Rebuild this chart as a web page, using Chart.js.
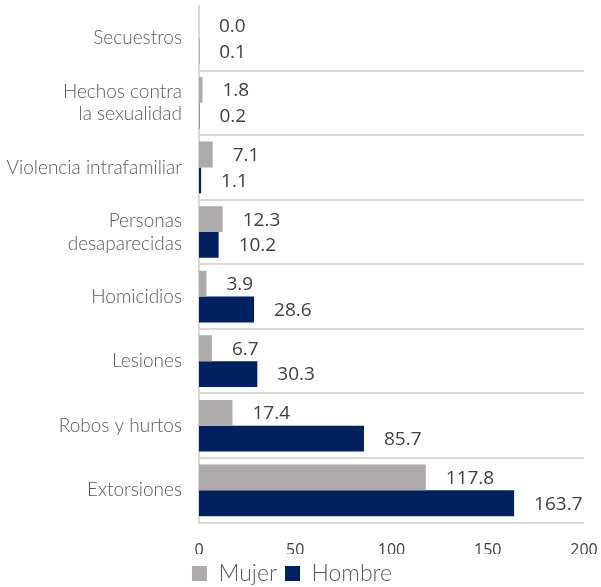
<!DOCTYPE html>
<html>
<head>
<meta charset="utf-8">
<script src="https://cdn.jsdelivr.net/npm/chart.js@4"></script>
<style>
  html, body { margin: 0; padding: 0; background: #fff; }
  #wrap { width: 601px; height: 587px; }
</style>
</head>
<body>
<div id="wrap"><canvas id="chart" width="601" height="587"></canvas></div>
<script>
// Data
const categories = [
  "Secuestros",
  ["Hechos contra", "la sexualidad"],
  "Violencia intrafamiliar",
  ["Personas", "desaparecidas"],
  "Homicidios",
  "Lesiones",
  "Robos y hurtos",
  "Extorsiones"
];
const mujer = [0.0, 1.8, 7.1, 12.3, 3.9, 6.7, 17.4, 117.8];
const hombre = [0.1, 0.2, 1.1, 10.2, 28.6, 30.3, 85.7, 163.7];
const xTicks = [0, 50, 100, 150, 200];

// value labels after each bar
const barLabels = {
  id: "barLabels",
  afterDatasetsDraw(chart) {
    const ctx = chart.ctx;
    ctx.save();
    ctx.font = "19px 'Open Sans', sans-serif";
    ctx.fillStyle = "#404040";
    ctx.textAlign = "left";
    ctx.textBaseline = "middle";
    chart.data.datasets.forEach((ds, i) => {
      chart.getDatasetMeta(i).data.forEach((bar, j) => {
        ctx.fillText(ds.data[j].toFixed(1), bar.x + 20, bar.y + 1);
      });
    });
    ctx.restore();
  }
};

new Chart(document.getElementById("chart").getContext("2d"), {
  type: "bar",
  data: {
    labels: categories,
    datasets: [
      { label: "Mujer", data: mujer, backgroundColor: "#AEAAAA", categoryPercentage: 0.8, barPercentage: 1.0 },
      { label: "Hombre", data: hombre, backgroundColor: "#002060", categoryPercentage: 0.8, barPercentage: 1.0 }
    ]
  },
  options: {
    indexAxis: "y",
    responsive: false,
    animation: false,
    layout: { padding: { top: 6, right: 17, bottom: -8, left: 0 } },
    scales: {
      x: {
        min: 0,
        max: 200,
        afterBuildTicks: scale => { scale.ticks = xTicks.map(v => ({ value: v })); },
        afterFit: scale => {
          scale.height = 31.4;
          scale.paddingLeft = 0;
          scale.paddingRight = 0;
        },
        grid: { display: false, drawTicks: false },
        border: { display: false },
        ticks: { font: { family: "'Open Sans', sans-serif", size: 16 }, color: "#404040", padding: 18 }
      },
      y: {
        afterFit: scale => {
          scale.width = 199;
          scale.paddingTop = 0;
          scale.paddingBottom = 0;
        },
        grid: {
          offset: true,
          color: ctx => ctx.index === 0 ? "rgba(0,0,0,0)" : "#D9D9D9",
          lineWidth: 2,
          drawTicks: false
        },
        border: { display: true, color: "#D9D9D9", width: 2 },
        ticks: { font: { family: "Lato", size: 19, weight: 300 }, color: "#595959", padding: 17 }
      }
    },
    plugins: {
      legend: {
        position: "bottom",
        labels: {
          boxWidth: 15,
          boxHeight: 15,
          padding: 8,
          font: { family: "Lato", size: 23, weight: 300 },
          color: "#595959"
        }
      },
      tooltip: { enabled: false }
    }
  },
  plugins: [barLabels]
});
</script>
</body>
</html>
